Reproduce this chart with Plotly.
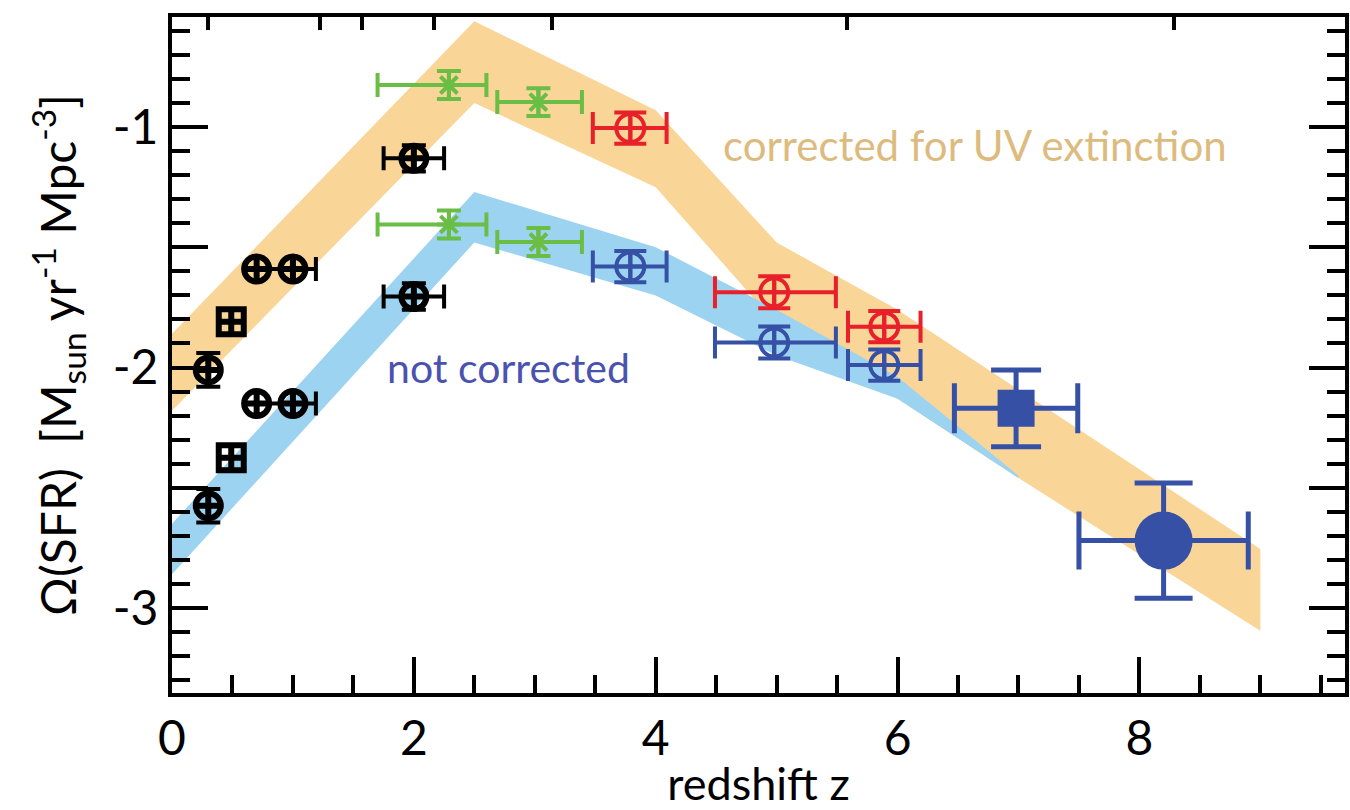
import plotly.graph_objects as go

# ---------------- data ----------------
# shaded bands (redshift, log SFR density)
orange_up_z = [0.0, 2.5, 4.0, 5.0, 6.0, 9.0]
orange_up_v = [-1.86, -0.56, -0.93, -1.48, -1.76, -2.755]
orange_lo_z = [0.0, 2.5, 4.0, 5.0, 6.0, 7.0, 9.0]
orange_lo_v = [-2.18, -0.90, -1.25, -1.82, -2.13, -2.46, -3.095]

blue_z = [0.0, 2.5, 4.0, 5.0, 6.0, 7.0]
blue_up_v = [-2.65, -1.27, -1.50, -1.76, -2.04, -2.45]
blue_lo_v = [-2.86, -1.48, -1.70, -1.95, -2.13, -2.46]

# black (low-z) points
black_z = [0.30, 0.49, 0.70, 1.00, 2.00]
black_corr = [-2.01, -1.81, -1.59, -1.59, -1.13]
black_unc = [-2.575, -2.375, -2.15, -2.15, -1.705]
black_xp = [0.0, 0.0, 0.0, 0.19, 0.25]
black_xm = [0.0, 0.0, 0.0, 0.30, 0.25]
black_ye = [0.07, 0.0, 0.0, 0.0, 0.055]
black_sym = ["circle-cross-open", "square-cross-open", "circle-cross-open",
             "circle-cross-open", "circle-cross-open"]

# green points
green_z = [2.29, 3.03]
green_corr = [-0.825, -0.896]
green_unc = [-1.405, -1.478]
green_xp = [0.31, 0.36]
green_xm = [0.59, 0.34]
green_ye = [0.058, 0.058]

# red / blue open points
rb_z = [3.79, 4.98, 5.89]
red_corr = [-1.004, -1.687, -1.83]
blue_unc = [-1.58, -1.896, -1.99]
rb_xp = [0.30, 0.51, 0.30]
rb_xm = [0.31, 0.49, 0.30]
rb_ye = [0.065, 0.067, 0.065]

# z~7 square and z~8 circle
sq_z, sq_v, sq_xe, sq_ye = [6.98], [-2.17], [0.51], [0.16]
bc_z, bc_v, bc_xe, bc_ye = [8.20], [-2.72], [0.70], [0.24]

# top-axis (cosmic age) tick positions in redshift
top_ticks_z = [0.30, 1.22, 1.57, 2.17, 3.14, 5.58, 8.29]

x_major = [0, 2, 4, 6, 8]
y_major = [-3.0, -2.5, -2.0, -1.5, -1.0]
y_text = ["-3", "", "-2", "", "-1"]

ORANGE = "#F9D597"
LBLUE = "#9CD3F0"
RED = "#E8202A"
BLUE = "#3550A5"
GREEN = "#6BBE45"
FONT = "Lato"

fig = go.Figure()

# bands
fig.add_trace(go.Scatter(
    x=orange_up_z + orange_lo_z[::-1], y=orange_up_v + orange_lo_v[::-1],
    fill="toself", fillcolor=ORANGE, mode="lines", line=dict(width=0),
    hoverinfo="skip", showlegend=False))
fig.add_trace(go.Scatter(
    x=blue_z + blue_z[::-1], y=blue_up_v + blue_lo_v[::-1],
    fill="toself", fillcolor=LBLUE, mode="lines", line=dict(width=0),
    hoverinfo="skip", showlegend=False))


def pts(x, y, xp, xm, ye, color, symbol, size, lw, cap, thick):
    return go.Scatter(
        x=x, y=y, mode="markers",
        marker=dict(symbol=symbol, size=size, color=color,
                    line=dict(color=color, width=lw)),
        error_x=dict(type="data", symmetric=False, array=xp, arrayminus=xm,
                     color=color, thickness=thick, width=cap),
        error_y=dict(type="data", array=ye, color=color,
                     thickness=thick, width=cap),
        showlegend=False, hoverinfo="skip")


for yy in (black_corr, black_unc):
    fig.add_trace(pts(black_z, yy, black_xp, black_xm, black_ye, "black",
                      black_sym, 25, 6, 12, 4))
for yy in (green_corr, green_unc):
    fig.add_trace(pts(green_z, yy, green_xp, green_xm, green_ye, GREEN,
                      "asterisk-open", 20, 4, 12, 4))
fig.add_trace(pts(rb_z, red_corr, rb_xp, rb_xm, rb_ye, RED,
                  "circle-cross-open", 28, 4, 16, 4))
fig.add_trace(pts(rb_z, blue_unc, rb_xp, rb_xm, rb_ye, BLUE,
                  "circle-cross-open", 28, 4, 16, 4))
fig.add_trace(pts(sq_z, sq_v, sq_xe, sq_xe, sq_ye, BLUE,
                  "square", 37, 0, 25, 5))
fig.add_trace(pts(bc_z, bc_v, bc_xe, bc_xe, bc_ye, BLUE,
                  "circle", 58, 0, 29, 5))

# helper trace binding the top axis
fig.add_trace(go.Scatter(x=top_ticks_z, y=[None] * len(top_ticks_z),
                         xaxis="x2", mode="lines", showlegend=False,
                         hoverinfo="skip"))

fig.add_annotation(x=6.64, y=-1.075, xref="x", yref="y",
                   text="corrected for UV extinction", showarrow=False,
                   font=dict(family=FONT, size=42, color="#DDBB7E"))
fig.add_annotation(x=2.78, y=-2.0, xref="x", yref="y",
                   text="not corrected", showarrow=False,
                   font=dict(family=FONT, size=41, color="#4A52B0"))

fig.update_layout(
    width=1350, height=810,
    margin=dict(l=172, r=1, t=17, b=117),
    plot_bgcolor="white", paper_bgcolor="white",
    font=dict(family=FONT, color="black"),
    xaxis=dict(range=[0, 9.7], tickvals=x_major, ticks="inside",
               ticklen=36, tickwidth=4, tickcolor="black",
               showline=True, linecolor="black", linewidth=4, mirror=True,
               showgrid=False, zeroline=False,
               tickfont=dict(family=FONT, size=48),
               minor=dict(dtick=0.5, tick0=0, ticks="inside", ticklen=18,
                          tickwidth=4, tickcolor="black", showgrid=False),
               title=dict(text="redshift z", font=dict(family=FONT, size=45),
                          standoff=8)),
    xaxis2=dict(range=[0, 9.7], overlaying="x", side="top",
                tickvals=top_ticks_z, ticks="inside", ticklen=13,
                tickwidth=4, tickcolor="black", showticklabels=False,
                showgrid=False, zeroline=False, showline=False),
    yaxis=dict(range=[-3.354, -0.542], tickvals=y_major, ticktext=y_text,
               ticks="inside", ticklen=36, tickwidth=4, tickcolor="black",
               showline=True, linecolor="black", linewidth=4, mirror="ticks",
               showgrid=False, zeroline=False,
               tickfont=dict(family=FONT, size=48),
               minor=dict(dtick=0.1, tick0=0, ticks="inside", ticklen=18,
                          tickwidth=4, tickcolor="black", showgrid=False),
               title=dict(text="Ω(SFR)  [M<sub>sun</sub> yr<sup>-1</sup> Mpc<sup>-3</sup>]",
                          font=dict(family=FONT, size=48), standoff=22)),
)

fig.write_html("out.html")
